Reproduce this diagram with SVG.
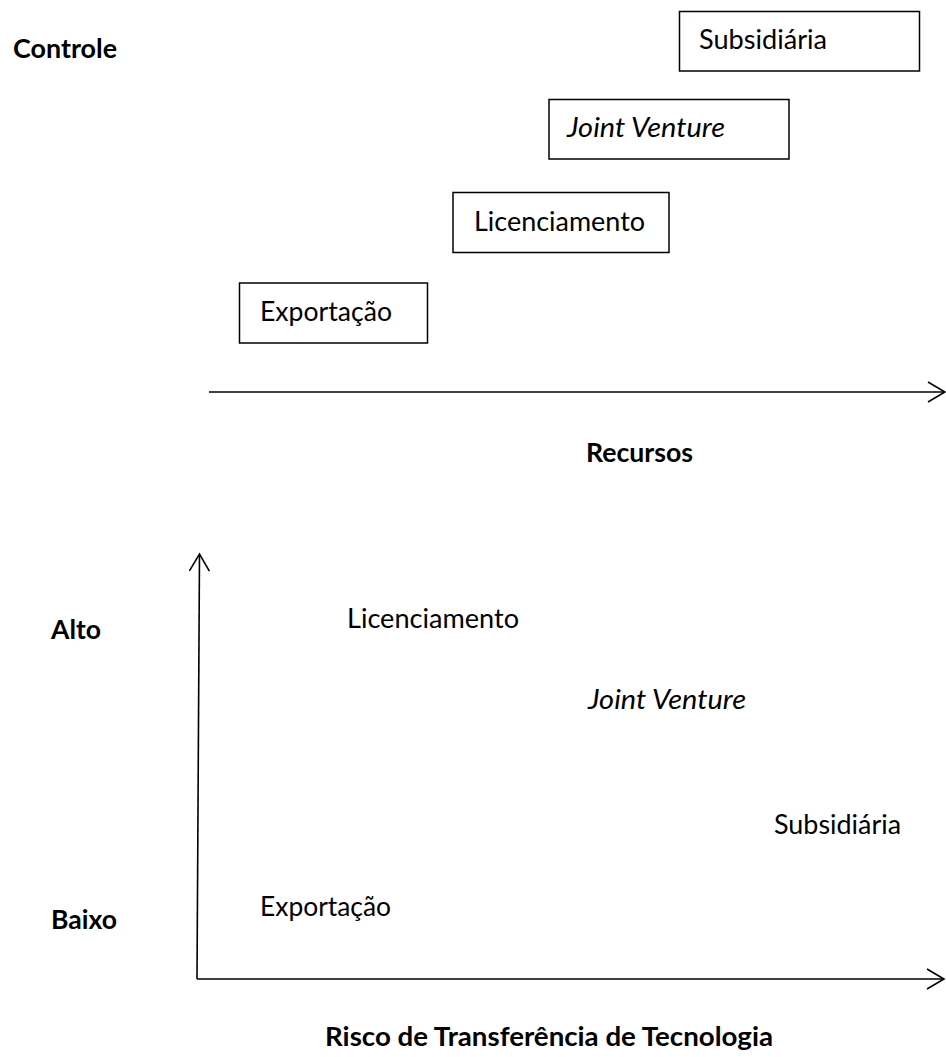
<svg xmlns="http://www.w3.org/2000/svg" width="946" height="1057" viewBox="0 0 946 1057">
  <style>
    text { font-family: Lato, "Open Sans", "Liberation Sans", sans-serif; font-size: 27px; fill: #000; }
    .b { font-weight: bold; }
    .i { font-style: italic; }
    .box { fill: #fff; stroke: #000; stroke-width: 1.5; }
    .axis { stroke: #000; stroke-width: 1.6; fill: none; }
  </style>
  <defs>
    <marker id="chev" markerUnits="userSpaceOnUse" markerWidth="20" markerHeight="24" viewBox="-1 -1 20 24" refX="17" refY="10" orient="auto">
      <path d="M0,0 L17,10 L0,20" fill="none" stroke="#000" stroke-width="1.6"/>
    </marker>
  </defs>
  <rect width="946" height="1057" fill="#fff"/>

  <g id="labels">
    <text class="b" x="13" y="58" textLength="104" lengthAdjust="spacingAndGlyphs">Controle</text>
    <text class="b" x="586" y="462" textLength="107" lengthAdjust="spacingAndGlyphs">Recursos</text>
    <text class="b" x="51" y="639" textLength="50" lengthAdjust="spacingAndGlyphs">Alto</text>
    <text class="b" x="51" y="929" textLength="66" lengthAdjust="spacingAndGlyphs">Baixo</text>
    <text class="b" x="325" y="1046" textLength="448" lengthAdjust="spacingAndGlyphs">Risco de Transferência de Tecnologia</text>
  </g>

  <g id="connectors">
    <line class="axis" x1="209" y1="392" x2="945" y2="392" marker-end="url(#chev)"/>
    <line class="axis" x1="197" y1="979" x2="199.5" y2="554" marker-end="url(#chev)"/>
    <line class="axis" x1="197" y1="979" x2="944" y2="979" marker-end="url(#chev)"/>
  </g>

  <g id="node-subsidiaria">
    <rect class="box" x="679.5" y="11.5" width="240" height="59.5"/>
    <text x="699" y="48.5" textLength="128" lengthAdjust="spacingAndGlyphs">Subsidiária</text>
  </g>
  <g id="node-jointventure">
    <rect class="box" x="549" y="99.5" width="240" height="59.5"/>
    <text class="i" x="567" y="137" textLength="158" lengthAdjust="spacingAndGlyphs">Joint Venture</text>
  </g>
  <g id="node-licenciamento">
    <rect class="box" x="453" y="192.5" width="216" height="60"/>
    <text x="474" y="231" textLength="171" lengthAdjust="spacingAndGlyphs">Licenciamento</text>
  </g>
  <g id="node-exportacao">
    <rect class="box" x="239.5" y="283" width="188" height="60"/>
    <text x="260" y="321" textLength="132" lengthAdjust="spacingAndGlyphs">Exportação</text>
  </g>

  <g id="point-licenciamento">
    <text x="347" y="628" textLength="172" lengthAdjust="spacingAndGlyphs">Licenciamento</text>
  </g>
  <g id="point-jointventure">
    <text class="i" x="588" y="709" textLength="158" lengthAdjust="spacingAndGlyphs">Joint Venture</text>
  </g>
  <g id="point-subsidiaria">
    <text x="774" y="834" textLength="127" lengthAdjust="spacingAndGlyphs">Subsidiária</text>
  </g>
  <g id="point-exportacao">
    <text x="260" y="916" textLength="131" lengthAdjust="spacingAndGlyphs">Exportação</text>
  </g>
</svg>
